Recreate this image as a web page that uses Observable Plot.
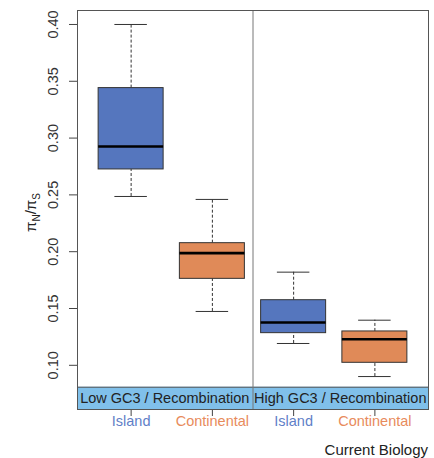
<!DOCTYPE html>
<html>
<head>
<meta charset="utf-8">
<script src="https://cdn.jsdelivr.net/npm/d3@7"></script>
<script src="https://cdn.jsdelivr.net/npm/@observablehq/plot@0.6"></script>
<style>
  html, body { margin: 0; padding: 0; background: #fff; }
  #chart { width: 434px; font-family: "Liberation Sans", Arial, sans-serif; }
  #caption { width: 434px; box-sizing: border-box; text-align: right; padding-right: 6px;
             font: 15px "Liberation Sans", Arial, sans-serif; color: #222; line-height: 20px; margin-top: 4px; }
</style>
</head>
<body>
<div id="chart"></div>
<div id="caption">Current Biology</div>
<script>
// ---- data ----
const categories = ["Island", "Continental", "Island", "Continental"];
const positions = [1, 2, 3, 4];
const groupLabels = ["Low GC3 / Recombination", "High GC3 / Recombination"];
const groupStart = [0.36, 2.5];
const whiskerLow = [0.2486, 0.1474, 0.1192, 0.0901];
const q1 = [0.2724, 0.1761, 0.1283, 0.1022];
const median = [0.2926, 0.1987, 0.1377, 0.1230];
const q3 = [0.3440, 0.2075, 0.1573, 0.1298];
const whiskerHigh = [0.4000, 0.2460, 0.1820, 0.1397];
const yTicks = [0.10, 0.15, 0.20, 0.25, 0.30, 0.35, 0.40];
const dividerAt = [2.5];

// ---- styling ----
const boxFill = { Island: "#5576BE", Continental: "#E08A58" };
const labelFill = { Island: "#5F7FC8", Continental: "#E88B5C" };
const bandFill = "#80C0EA";
const xDomain = [0.34, 4.66];
const yDomain = [0.0611, 0.4123];
const bandTop = 0.0807;
const font = "Liberation Sans, Arial, sans-serif";

const boxes = positions.map((p, i) => ({
  x: p, cat: categories[i], lo: whiskerLow[i], q1: q1[i], med: median[i], q3: q3[i], hi: whiskerHigh[i]
}));

const W = 434, H = 436;
const plot = Plot.plot({
  width: W, height: H,
  marginLeft: 77, marginRight: 6, marginTop: 10, marginBottom: 27,
  style: { fontFamily: font, background: "#fff" },
  x: { type: "linear", domain: xDomain },
  y: { type: "linear", domain: yDomain },
  marks: [
    // band
    Plot.rect([0], { x1: xDomain[0], x2: xDomain[1], y1: yDomain[0], y2: bandTop, fill: bandFill }),
    // whiskers
    Plot.ruleX(boxes, { x: "x", y1: "q3", y2: "hi", stroke: "#333", strokeDasharray: "3,2" }),
    Plot.ruleX(boxes, { x: "x", y1: "lo", y2: "q1", stroke: "#333", strokeDasharray: "3,2" }),
    Plot.ruleY(boxes, { y: "hi", x1: d => d.x - 0.2, x2: d => d.x + 0.2, stroke: "#333" }),
    Plot.ruleY(boxes, { y: "lo", x1: d => d.x - 0.2, x2: d => d.x + 0.2, stroke: "#333" }),
    // boxes
    Plot.rect(boxes, { x1: d => d.x - 0.4, x2: d => d.x + 0.4, y1: "q1", y2: "q3",
      fill: d => boxFill[d.cat], stroke: "#333", strokeWidth: 1, inset: 0 }),
    Plot.ruleY(boxes, { y: "med", x1: d => d.x - 0.4, x2: d => d.x + 0.4, stroke: "#000", strokeWidth: 2.6 }),
    // band top line
    Plot.ruleY([bandTop], { stroke: "#555" }),
    // divider
    Plot.ruleX(dividerAt, { stroke: "#777" }),
    // band labels
    Plot.text(groupLabels, { x: (d, i) => groupStart[i], y: (yDomain[0] + bandTop) / 2, text: d => d,
      textAnchor: "start", dx: 1, fontSize: 14.5, fill: "#222" }),
    // axes
    Plot.axisY(yTicks, { tickSize: 8, tickFormat: () => "", label: null, stroke: "#444" }),
    Plot.text(yTicks, { y: d => d, text: d => d.toFixed(2), frameAnchor: "left", dx: -24,
      rotate: -90, textAnchor: "middle", fontSize: 14.5, fill: "#333" }),
    Plot.axisX(positions, { tickSize: 7, tickFormat: () => "", label: null, stroke: "#444" }),
    Plot.text(boxes, { x: "x", text: "cat", frameAnchor: "bottom", dy: 16, fontSize: 14.5,
      fill: d => labelFill[d.cat] }),
    Plot.frame({ stroke: "#555" })
  ]
});

// y-axis title with subscripts
const ys = plot.scale("y");
const yMid = (ys.range[0] + ys.range[1]) / 2;
const t = d3.select(plot).append("text")
  .attr("transform", `translate(31,${yMid + 3}) rotate(-90)`)
  .attr("text-anchor", "middle")
  .attr("dy", "0.35em")
  .attr("font-family", font)
  .attr("font-size", 15)
  .attr("fill", "#222");
t.append("tspan").text("π");
t.append("tspan").attr("dy", 4).attr("font-size", 10).text("N");
t.append("tspan").attr("dy", -4).text("/π");
t.append("tspan").attr("dy", 4).attr("font-size", 10).text("S");

document.getElementById("chart").appendChild(plot);
</script>
</body>
</html>
